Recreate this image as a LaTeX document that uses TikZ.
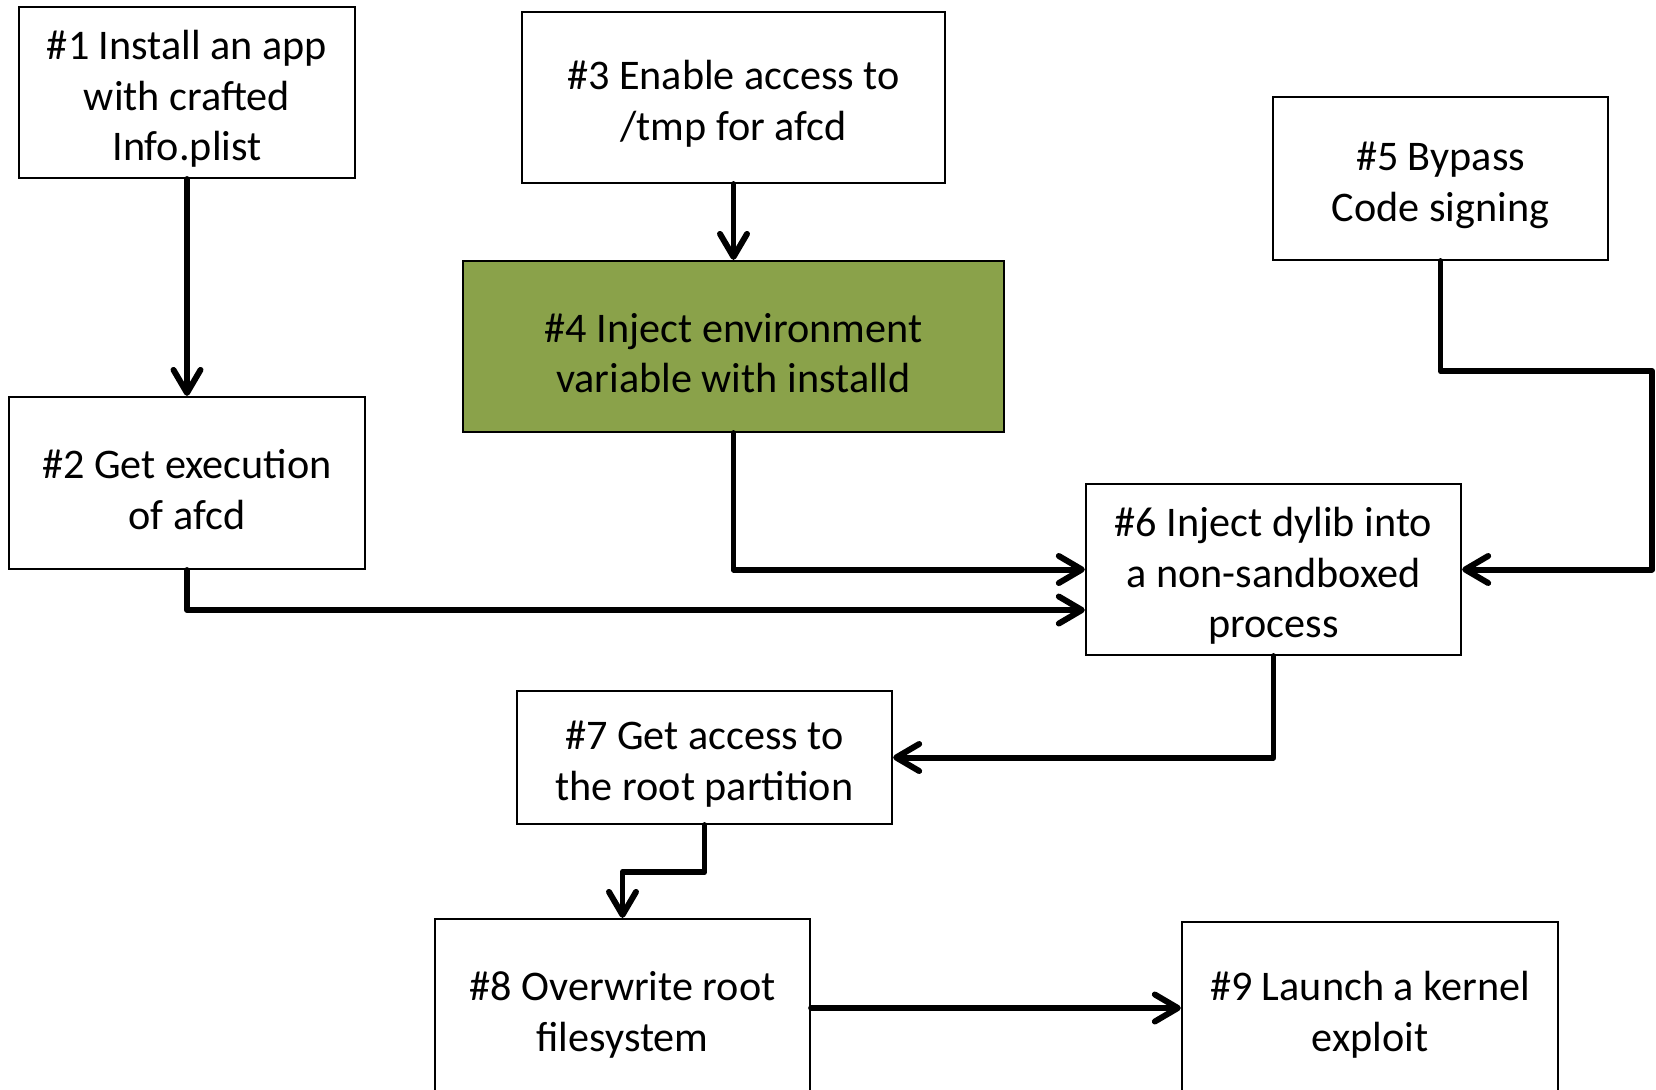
\documentclass[tikz,border=0pt]{standalone}
\usepackage{fontspec}
\setmainfont{Carlito}
\usepackage{tikz}
\usetikzlibrary{arrows.meta}
\definecolor{olivebox}{RGB}{138,162,74}
\newcommand{\tpad}{\rule{0pt}{12pt}}

\begin{document}
\begin{tikzpicture}[x=0.01cm,y=-0.01cm,
	stage/.style={draw,line width=0.6pt,align=center,inner sep=0pt,font=\fontsize{12}{14.4}\selectfont},
	link/.style={line width=1.7pt,line cap=round,line join=round,-{Straight Barb[length=2.3mm,width=2.7mm,line cap=round,line join=round]}}]
	\useasboundingbox (0,0) rectangle (1656,1090);
	\clip (0,0) rectangle (1656,1090);

	\node[stage,minimum width=3.36cm,minimum height=1.71cm] (s1) at (187,92.5) {\tpad\#1 Install an app\\with crafted\\Info.plist};
	\node[stage,minimum width=3.55cm,minimum height=1.72cm] (s2) at (187,483) {\tpad\#2 Get execution\\of afcd};
	\node[stage,minimum width=4.23cm,minimum height=1.71cm] (s3) at (733.5,97.5) {\tpad\#3 Enable access to\\/tmp for afcd};
	\node[stage,fill=olivebox,minimum width=5.41cm,minimum height=1.71cm] (s4) at (733.5,346.5) {\tpad\#4 Inject environment\\variable with installd};
	\node[stage,minimum width=3.35cm,minimum height=1.63cm] (s5) at (1440.5,178.5) {\tpad\#5 Bypass\\Code signing};
	\node[stage,minimum width=3.75cm,minimum height=1.71cm] (s6) at (1273.5,569.5) {\tpad\#6 Inject dylib into\\a non-sandboxed\\process};
	\node[stage,minimum width=3.75cm,minimum height=1.33cm] (s7) at (704.5,757.5) {\tpad\#7 Get access to\\the root partition};
	\node[stage,minimum width=3.75cm,minimum height=1.78cm] (s8) at (622.5,1008) {\tpad\#8 Overwrite root\\filesystem};
	\node[stage,minimum width=3.76cm,minimum height=1.72cm] (s9) at (1370,1008) {\tpad\#9 Launch a kernel\\exploit};

	\coordinate (in6) at ([yshift=-0.405cm]s6.west);
	\coordinate (bend5) at (1652,371);
	\coordinate (bend7) at (622.5,872);

	\foreach \from/\to in {s1/s2,s3/s4,s8/s9}
		\draw[link] (\from) -- (\to);
	\foreach \from/\to in {s4/s6.west,s2/in6,s6/s7.east}
		\draw[link] (\from.south) |- (\to);
	\draw[link] (s5.south) |- (bend5) |- (s6.east);
	\draw[link] (s7.south) |- (bend7) -- (s8.north);
\end{tikzpicture}
\end{document}
